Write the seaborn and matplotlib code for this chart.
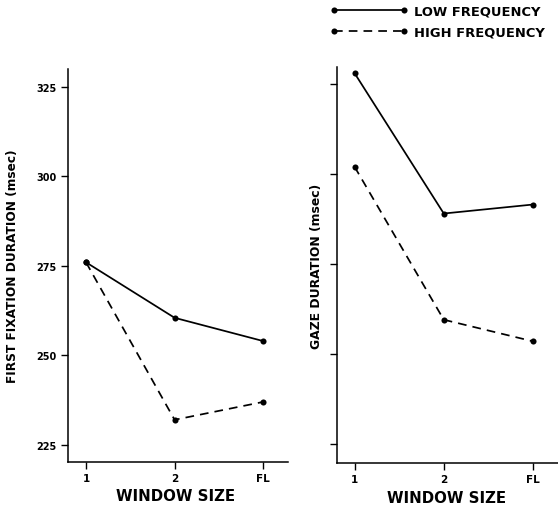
import matplotlib
matplotlib.use("Agg")
import matplotlib.pyplot as plt
import seaborn as sns
import pandas as pd
from matplotlib.lines import Line2D

# Window-size conditions and mean durations (msec)
window_sizes = ["1", "2", "FL"]
first_fix_low = [276, 260.5, 254]
first_fix_high = [276, 232, 237]
gaze_low = [328, 289, 291.5]
gaze_high = [302, 259.5, 253.5]
y_ticks = [225, 250, 275, 300, 325]

LOW = "LOW FREQUENCY"
HIGH = "HIGH FREQUENCY"


def long_form(low, high):
    return pd.DataFrame({
        "window": window_sizes * 2,
        "duration": list(low) + list(high),
        "freq": [LOW] * len(low) + [HIGH] * len(high),
    })


df_first = long_form(first_fix_low, first_fix_high)
df_gaze = long_form(gaze_low, gaze_high)

sns.set_theme(style="ticks")
plt.rcParams["font.family"] = ["DejaVu Sans"]
plt.rcParams["font.weight"] = "bold"
plt.rcParams["text.color"] = "black"
plt.rcParams["axes.labelcolor"] = "black"
plt.rcParams["xtick.color"] = "black"
plt.rcParams["ytick.color"] = "black"

fig = plt.figure(figsize=(5.58, 5.06), dpi=100)
fig.patch.set_facecolor("white")

ax1 = fig.add_axes([0.1224, 0.0856, 0.3937, 0.776])
ax2 = fig.add_axes([0.6034, 0.083, 0.3966, 0.7826])

dash_map = {LOW: "", HIGH: (5, 3.5)}
marker_map = {LOW: "o", HIGH: "o"}
LW = 1.25
MS = 4.4

for ax, data in ((ax1, df_first), (ax2, df_gaze)):
    sns.lineplot(data=data, x="window", y="duration", style="freq",
                 style_order=[LOW, HIGH], dashes=dash_map, markers=marker_map,
                 color="black", linewidth=LW, markersize=MS,
                 markeredgewidth=0, sort=False, legend=False, ax=ax)
    ax.set_facecolor("white")
    ax.set_xlim(-0.2, 2.28)
    ax.set_yticks(y_ticks)
    for side in ("top", "right"):
        ax.spines[side].set_visible(False)
    for side in ("left", "bottom"):
        ax.spines[side].set_linewidth(1.1)
        ax.spines[side].set_color("black")
    ax.tick_params(axis="both", direction="out", length=4.8, width=1.0,
                   color="black", labelcolor="black", pad=3.4)
    ax.tick_params(axis="x", labelsize=7.5)
    ax.tick_params(axis="y", labelsize=7)
    for lab in ax.get_xticklabels() + ax.get_yticklabels():
        lab.set_fontweight("bold")
    ax.set_xlabel("WINDOW SIZE", fontsize=10.8, fontweight="bold", color="black")

ax1.set_ylim(220.3, 330)
ax2.set_ylim(219.7, 329.7)
ax2.set_yticklabels([])

ax1.set_ylabel("FIRST FIXATION DURATION (msec)", fontsize=8.7,
               fontweight="bold", color="black")
ax2.set_ylabel("GAZE DURATION (msec)", fontsize=8.9,
               fontweight="bold", color="black")
ax1.yaxis.set_label_coords(-0.225, 0.5)
ax2.yaxis.set_label_coords(-0.062, 0.5)
ax1.xaxis.set_label_coords(0.489, -0.066)
ax2.xaxis.set_label_coords(0.498, -0.068)

handles = [
    Line2D([], [], color="black", lw=LW, marker="o", markersize=MS,
           markeredgewidth=0),
    Line2D([], [], color="black", lw=LW, ls=(0, (5, 3.5)), marker="o",
           markersize=MS, markeredgewidth=0),
]
fig.legend(handles, [LOW, HIGH], loc="upper left",
           bbox_to_anchor=(0.57, 1.012), frameon=False, numpoints=2,
           handlelength=6.0, handletextpad=0.45, labelspacing=0.6,
           prop={"size": 9.4, "weight": "bold"})

fig.savefig("out.png", dpi=100, facecolor="white")
